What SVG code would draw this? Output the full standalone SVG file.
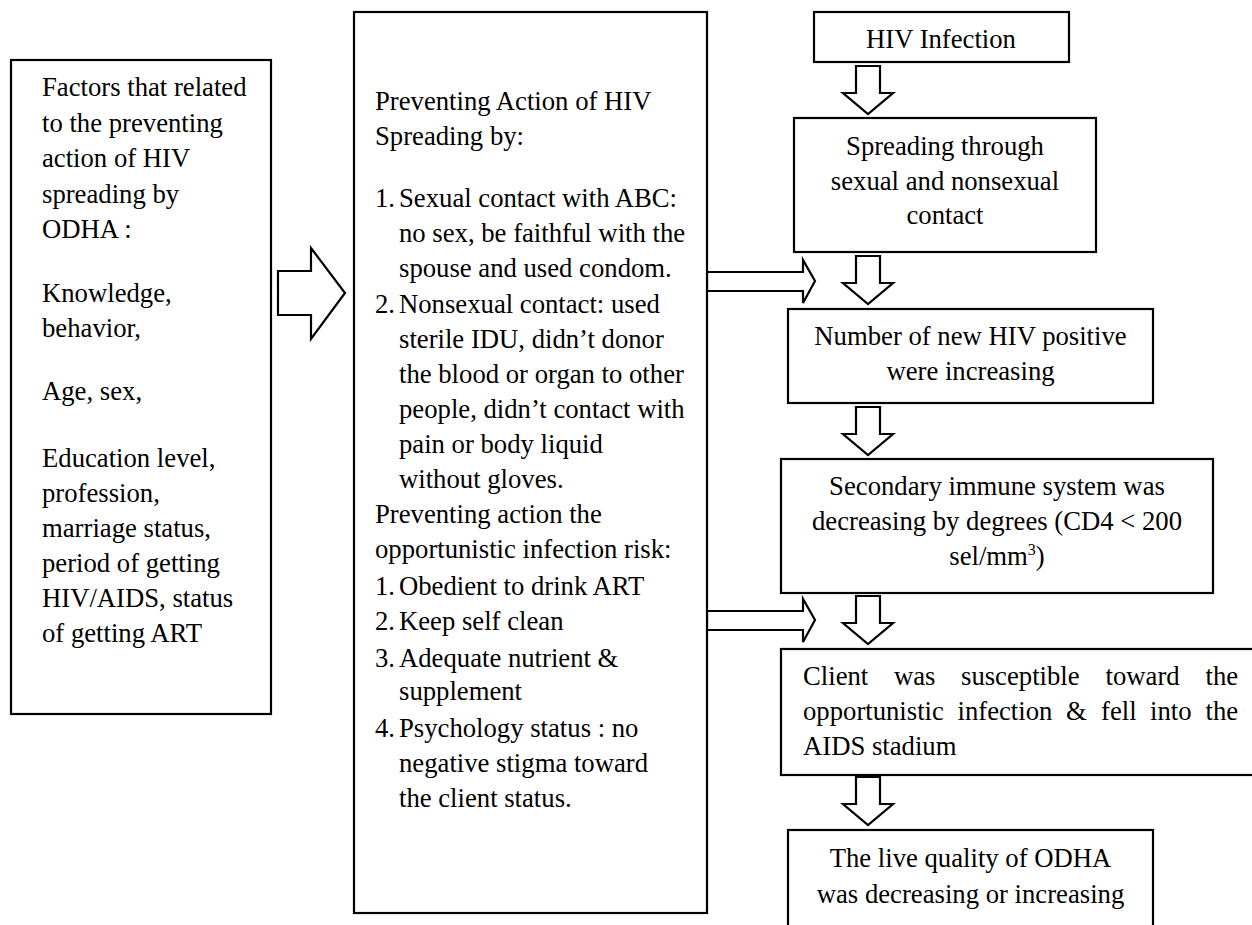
<svg xmlns="http://www.w3.org/2000/svg" xmlns:xlink="http://www.w3.org/1999/xlink" width="1252" height="925" viewBox="0 0 1252 925">
<style>
  .box { fill: #ffffff; stroke: #000000; stroke-width: 2.2; }
  .arr { fill: #ffffff; stroke: #000000; stroke-width: 2.2; stroke-linejoin: miter; }
  text { font-family: "Liberation Serif", "Times New Roman", serif; font-size: 26.7px; fill: #000000; }
  .c { text-anchor: middle; }
</style>
<defs>
  <path id="downArrow" d="M0,0 H24 V27 H37 L12,48 L-13,27 H0 Z"/>
  <path id="sideArrow" d="M0,0 H96 V-12 L108,9 L96,31 V19 H0 Z"/>
</defs>
<rect width="1252" height="925" fill="#ffffff"/>

<g id="connectors">
  <polygon class="arr" points="278,271 311,271 311,248 345,293 311,339 311,315 278,315"/>
  <use xlink:href="#downArrow" class="arr" transform="translate(856,66)"/>
  <use xlink:href="#downArrow" class="arr" transform="translate(856,256)"/>
  <use xlink:href="#downArrow" class="arr" transform="translate(856,407)"/>
  <use xlink:href="#downArrow" class="arr" transform="translate(856,596)"/>
  <use xlink:href="#downArrow" class="arr" transform="translate(856,777)"/>
  <use xlink:href="#sideArrow" class="arr" transform="translate(707,272)"/>
  <use xlink:href="#sideArrow" class="arr" transform="translate(707,611)"/>
</g>

<g id="factors">
  <rect class="box" x="11" y="60" width="260" height="654"/>
  <text x="42" y="96">Factors that related</text>
  <text x="42" y="132">to the preventing</text>
  <text x="42" y="167">action of HIV</text>
  <text x="42" y="203">spreading by</text>
  <text x="42" y="238">ODHA :</text>
  <text x="42" y="302">Knowledge,</text>
  <text x="42" y="337">behavior,</text>
  <text x="42" y="400">Age, sex,</text>
  <text x="42" y="467">Education level,</text>
  <text x="42" y="502">profession,</text>
  <text x="42" y="537">marriage status,</text>
  <text x="42" y="572">period of getting</text>
  <text x="42" y="607">HIV/AIDS, status</text>
  <text x="42" y="642">of getting ART</text>
</g>

<g id="preventing">
  <rect class="box" x="354" y="12" width="353" height="901"/>
  <text x="375" y="110">Preventing Action of HIV</text>
  <text x="375" y="145">Spreading by:</text>
  <text x="375" y="207">1.</text><text x="399" y="207">Sexual contact with ABC:</text>
  <text x="399" y="242">no sex, be faithful with the</text>
  <text x="399" y="277">spouse and used condom.</text>
  <text x="375" y="313">2.</text><text x="399" y="313">Nonsexual contact: used</text>
  <text x="399" y="348">sterile IDU, didn’t donor</text>
  <text x="399" y="383">the blood or organ to other</text>
  <text x="399" y="418">people, didn’t contact with</text>
  <text x="399" y="453">pain or body liquid</text>
  <text x="399" y="488">without gloves.</text>
  <text x="375" y="523">Preventing action the</text>
  <text x="375" y="558">opportunistic infection risk:</text>
  <text x="375" y="595">1.</text><text x="399" y="595">Obedient to drink ART</text>
  <text x="375" y="630">2.</text><text x="399" y="630">Keep self clean</text>
  <text x="375" y="667">3.</text><text x="399" y="667">Adequate nutrient &amp;</text>
  <text x="399" y="700">supplement</text>
  <text x="375" y="737">4.</text><text x="399" y="737">Psychology status : no</text>
  <text x="399" y="772">negative stigma toward</text>
  <text x="399" y="807">the client status.</text>
</g>

<g id="hiv-infection">
  <rect class="box" x="814" y="12" width="255" height="50"/>
  <text class="c" x="941" y="48">HIV Infection</text>
</g>

<g id="spreading">
  <rect class="box" x="794" y="118" width="302" height="134"/>
  <text class="c" x="945" y="155">Spreading through</text>
  <text class="c" x="945" y="190">sexual and nonsexual</text>
  <text class="c" x="945" y="224">contact</text>
</g>

<g id="new-positive">
  <rect class="box" x="788" y="309" width="365" height="94"/>
  <text class="c" x="970.5" y="345">Number of new HIV positive</text>
  <text class="c" x="970.5" y="380">were increasing</text>
</g>

<g id="immune">
  <rect class="box" x="781" y="459" width="432" height="134"/>
  <text class="c" x="997" y="495">Secondary immune system was</text>
  <text class="c" x="997" y="530">decreasing by degrees (CD4 &lt; 200</text>
  <text class="c" x="997" y="565">sel/mm<tspan dy="-10" font-size="16">3</tspan><tspan dy="10">)</tspan></text>
</g>

<g id="susceptible">
  <rect class="box" x="781" y="649" width="490" height="126"/>
  <text y="685"><tspan x="803">Client</tspan><tspan x="894">was</tspan><tspan x="961">susceptible</tspan><tspan x="1105.5">toward</tspan><tspan x="1205.5">the</tspan></text>
  <text y="720"><tspan x="803">opportunistic</tspan><tspan x="957.5">infection</tspan><tspan x="1066">&amp;</tspan><tspan x="1101">fell</tspan><tspan x="1150">into</tspan><tspan x="1205.5">the</tspan></text>
  <text x="803" y="755">AIDS stadium</text>
</g>

<g id="live-quality">
  <rect class="box" x="788" y="830" width="365" height="110"/>
  <text class="c" x="970.5" y="867">The live quality of ODHA</text>
  <text class="c" x="970.5" y="903">was decreasing or increasing</text>
</g>
</svg>
